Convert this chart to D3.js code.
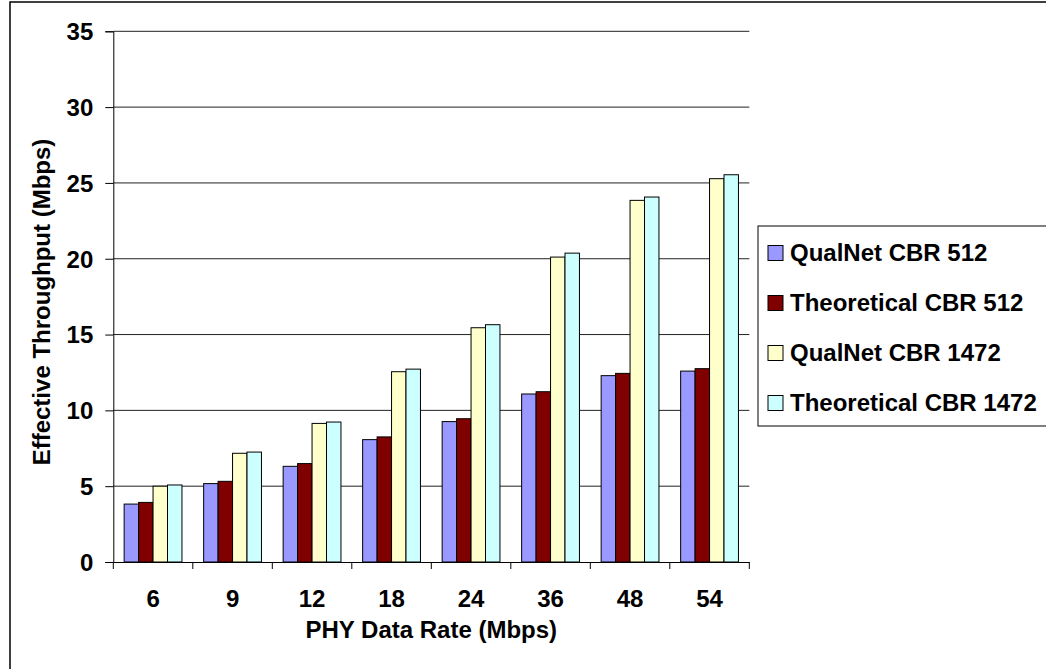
<!DOCTYPE html>
<html>
<head>
<meta charset="utf-8">
<script src="https://cdn.jsdelivr.net/npm/d3@7"></script>
<style>
  body { margin: 0; background: #fff; }
  text { font-family: "Liberation Sans", Arial, sans-serif; font-weight: bold; fill: #000; }
</style>
</head>
<body>
<div id="chart"></div>
<script>
// data
var rates = ["6", "9", "12", "18", "24", "36", "48", "54"];
var qualnet512 = [3.82, 5.17, 6.31, 8.07, 9.26, 11.08, 12.29, 12.59];
var theory512 = [3.93, 5.32, 6.49, 8.25, 9.45, 11.23, 12.44, 12.75];
var qualnet1472 = [5.0, 7.17, 9.14, 12.55, 15.45, 20.11, 23.85, 25.28];
var theory1472 = [5.08, 7.25, 9.23, 12.72, 15.65, 20.37, 24.07, 25.54];
var seriesNames = ["QualNet CBR 512", "Theoretical CBR 512", "QualNet CBR 1472", "Theoretical CBR 1472"];
var yTicks = [0, 5, 10, 15, 20, 25, 30, 35];

var seriesValues = [qualnet512, theory512, qualnet1472, theory1472];
var colors = ["#9999ff", "#800000", "#ffffcc", "#ccffff"];

var w = 1046, h = 669;
var plotLeft = 113.3, plotRight = 749.3, plotTop = 31.3, plotBottom = 562;

var svg = d3.select("#chart").append("svg")
  .attr("width", w)
  .attr("height", h);

// outer chart border
svg.append("rect")
  .attr("x", 10).attr("y", 2)
  .attr("width", 1100).attr("height", 800)
  .attr("fill", "#fff")
  .attr("stroke", "#000")
  .attr("stroke-width", 1.5);

var x = d3.scaleBand().domain(rates).range([plotLeft, plotRight]);
var bw = x.bandwidth() / 5.5;
var xs = d3.scaleBand().domain(d3.range(4)).range([bw * 0.75, x.bandwidth() - bw * 0.75]);
var y = d3.scaleLinear().domain([0, 35]).range([plotBottom, plotTop]);

// gridlines
svg.append("g")
  .selectAll("line")
  .data(yTicks.slice(1))
  .enter()
  .append("line")
  .attr("x1", plotLeft).attr("x2", plotRight)
  .attr("y1", d => y(d)).attr("y2", d => y(d))
  .attr("stroke", "#222")
  .attr("stroke-width", 1);

// bars
var groups = svg.append("g")
  .selectAll("g.rate")
  .data(rates)
  .enter()
  .append("g")
  .attr("class", "rate")
  .attr("transform", d => "translate(" + x(d) + ",0)");

groups.each(function (d, i) {
  d3.select(this)
    .selectAll("rect")
    .data(seriesValues.map((s, k) => ({ k: k, v: s[i] })))
    .enter()
    .append("rect")
    .attr("x", e => xs(e.k))
    .attr("y", e => y(e.v))
    .attr("width", xs.bandwidth())
    .attr("height", e => plotBottom - y(e.v))
    .attr("fill", e => colors[e.k])
    .attr("stroke", "#000")
    .attr("stroke-width", 1);
});

// y axis
var yAxis = svg.append("g")
  .attr("transform", "translate(" + plotLeft + ",0)")
  .call(d3.axisLeft(y).tickValues(yTicks).tickSize(8).tickPadding(12));
yAxis.select(".domain").attr("stroke", "#000");
yAxis.selectAll(".tick line").attr("stroke", "#000");
yAxis.selectAll("text").style("font-size", "24px").attr("dy", "0.35em");

// x axis, ticks on the category boundaries
var xAxis = svg.append("g")
  .attr("transform", "translate(0," + plotBottom + ")")
  .call(d3.axisBottom(x).tickSize(0).tickPadding(45));
xAxis.select(".domain").attr("stroke", "#000");
xAxis.selectAll("text").style("font-size", "24px").attr("dy", "0");
svg.append("g")
  .selectAll("line")
  .data(rates.map(r => x(r)).concat([plotRight]))
  .enter()
  .append("line")
  .attr("x1", d => d).attr("x2", d => d)
  .attr("y1", plotBottom).attr("y2", plotBottom + 7)
  .attr("stroke", "#000");

// axis titles
svg.append("text")
  .attr("x", (plotLeft + plotRight) / 2)
  .attr("y", 638)
  .attr("text-anchor", "middle")
  .style("font-size", "24px")
  .text("PHY Data Rate (Mbps)");

svg.append("text")
  .attr("transform", "translate(50,302) rotate(-90)")
  .attr("text-anchor", "middle")
  .style("font-size", "24px")
  .text("Effective Throughput (Mbps)");

// legend
var legend = svg.append("g").attr("transform", "translate(758,226)");
legend.append("rect")
  .attr("x", 0).attr("y", 0)
  .attr("width", 320).attr("height", 200)
  .attr("fill", "#fff")
  .attr("stroke", "#000")
  .attr("stroke-width", 1);

var items = legend.selectAll("g.item")
  .data(seriesNames)
  .enter()
  .append("g")
  .attr("class", "item")
  .attr("transform", (d, i) => "translate(10," + (27 + i * 50) + ")");
items.append("rect")
  .attr("x", 0).attr("y", -7.5)
  .attr("width", 15).attr("height", 15)
  .attr("fill", (d, i) => colors[i])
  .attr("stroke", "#000");
items.append("text")
  .attr("x", 22)
  .attr("dy", "0.35em")
  .style("font-size", "24px")
  .text(d => d);
</script>
</body>
</html>
